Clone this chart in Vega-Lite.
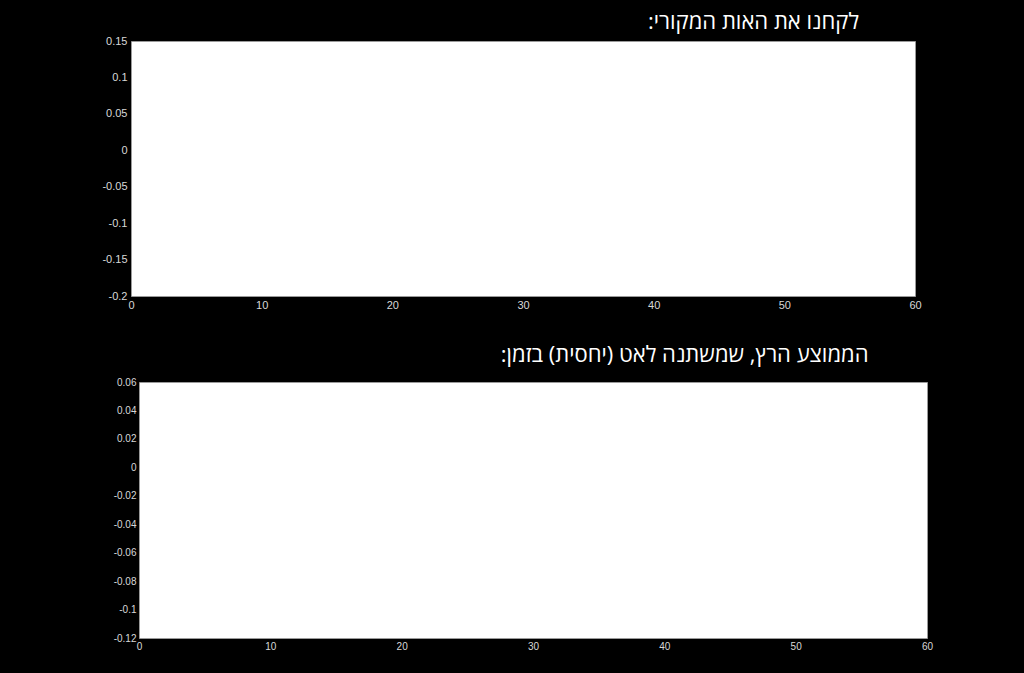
{
  "$schema": "https://vega.github.io/schema/vega-lite/v6.json",
  "background": "black",
  "padding": {"left": 0, "top": 10, "right": 91, "bottom": 24},
  "spacing": 32,
  "config": {
    "view": {"fill": "white", "stroke": "#9a9a9a", "strokeWidth": 1},
    "axis": {
      "labelColor": "#d8d8d8",
      "labelFont": "Liberation Sans",
      "labelFontSize": 11,
      "labelFlush": false,
      "ticks": false,
      "domain": false,
      "grid": false,
      "title": null
    },
    "title": {
      "color": "white",
      "font": "Open Sans, Liberation Sans",
      "fontSize": 22,
      "fontWeight": "normal",
      "anchor": "end"
    }
  },
  "vconcat": [
    {
      "spacing": 0,
      "hconcat": [
        {
          "width": 90,
          "height": 1,
          "data": {"values": []},
          "mark": {"type": "point"},
          "view": {"fill": "black", "stroke": null}
        },
        {
          "width": 784,
          "height": 255,
          "title": {"text": "לקחנו את האות המקורי:‏", "dx": -62, "offset": 1},
          "data": {"values": []},
          "mark": {"type": "point"},
          "encoding": {
            "x": {
              "field": "t", "type": "quantitative",
              "scale": {"domain": [0, 60], "nice": false, "zero": false},
              "axis": {"values": [0, 10, 20, 30, 40, 50, 60], "labelExpr": "toString(datum.value)", "labelPadding": 3}
            },
            "y": {
              "field": "v", "type": "quantitative",
              "scale": {"domain": [-0.2, 0.15], "nice": false, "zero": false},
              "axis": {"values": [-0.2, -0.15, -0.1, -0.05, 0, 0.05, 0.1, 0.15], "labelExpr": "toString(datum.value)", "labelPadding": 4, "minExtent": 40}
            }
          }
        }
      ]
    },
    {
      "spacing": 0,
      "hconcat": [
        {
          "width": 98,
          "height": 1,
          "data": {"values": []},
          "mark": {"type": "point"},
          "view": {"fill": "black", "stroke": null}
        },
        {
          "width": 788,
          "height": 256,
          "title": {"text": "הממוצע הרץ, שמשתנה לאט (יחסית) בזמן:‏", "dx": -64, "offset": 10},
          "data": {"values": []},
          "mark": {"type": "point"},
          "encoding": {
            "x": {
              "field": "t", "type": "quantitative",
              "scale": {"domain": [0, 60], "nice": false, "zero": false},
              "axis": {"values": [0, 10, 20, 30, 40, 50, 60], "labelExpr": "toString(datum.value)", "labelPadding": 3, "labelFontSize": 10}
            },
            "y": {
              "field": "v", "type": "quantitative",
              "scale": {"domain": [-0.12, 0.06], "nice": false, "zero": false},
              "axis": {"values": [-0.12, -0.1, -0.08, -0.06, -0.04, -0.02, 0, 0.02, 0.04, 0.06], "labelExpr": "toString(datum.value)", "labelPadding": 3, "labelFontSize": 10, "minExtent": 40}
            }
          }
        }
      ]
    }
  ]
}
